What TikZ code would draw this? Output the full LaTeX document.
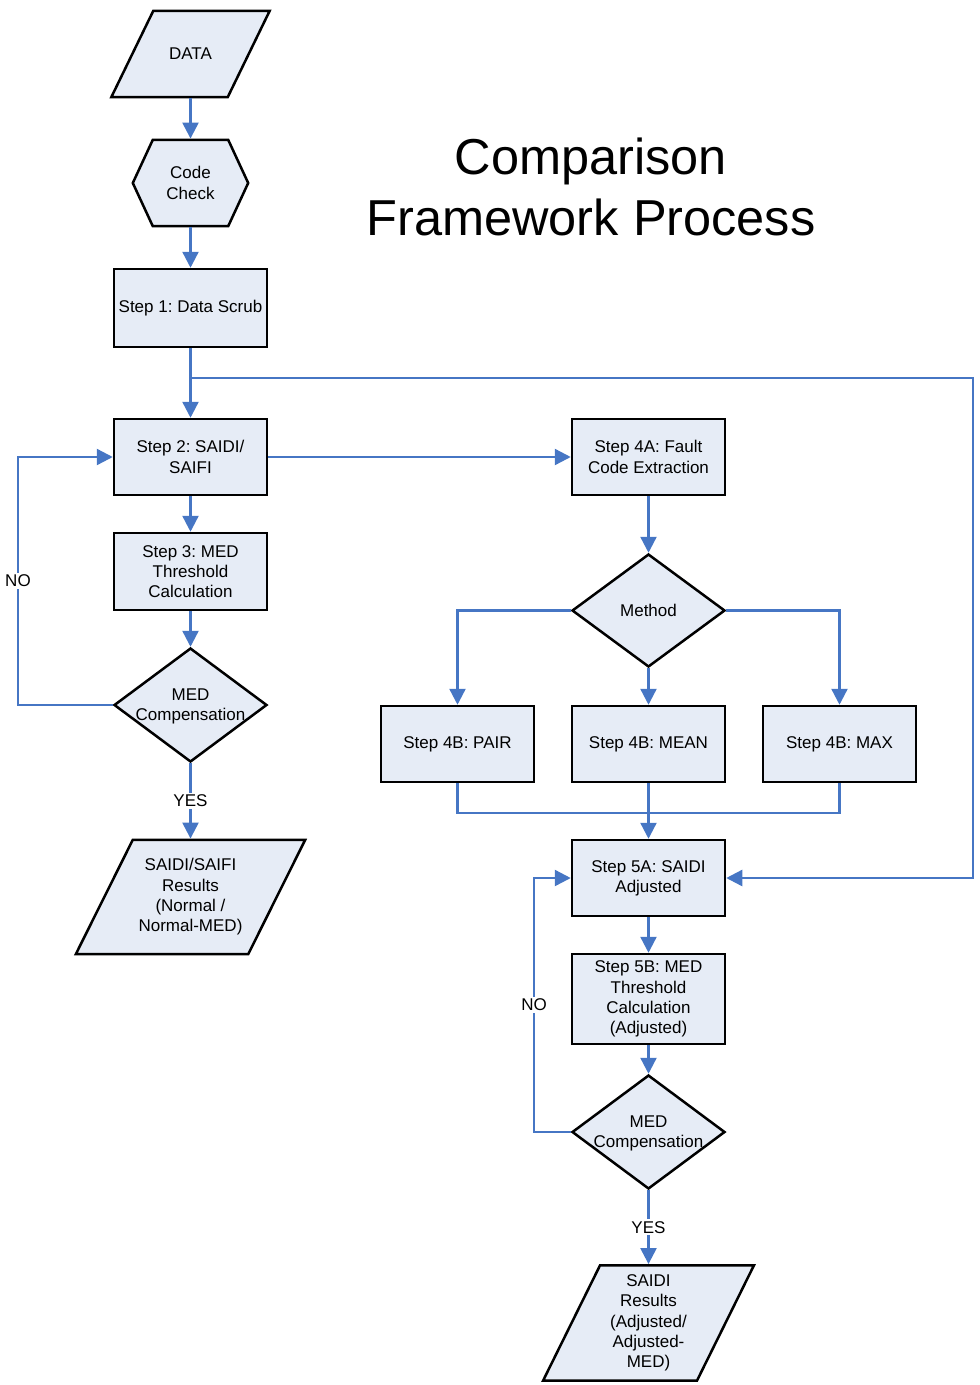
\documentclass[tikz,border=0pt]{standalone}
\usepackage{fontspec}
\setmainfont{Liberation Sans}
\usetikzlibrary{shapes.geometric,arrows.meta}
\pgfdeclarelayer{bg}
\pgfsetlayers{bg,main}
\definecolor{lblue}{RGB}{70,118,196}
\definecolor{boxfill}{RGB}{230,236,246}
\tikzset{
  txt/.style={align=center, inner sep=0pt, font=\fontsize{17}{20.3}\selectfont},
  box/.style={txt, draw=black, line width=2.5pt, fill=boxfill, rectangle, minimum width=153pt, minimum height=77pt},
  holder/.style={txt, rectangle, draw=none},
  outl/.style={draw=black, line width=2.5pt, fill=boxfill, line join=miter},
  dia/.style={shape=diamond, draw=black, line width=2.5pt, fill=boxfill, minimum width=153pt, minimum height=114pt, inner sep=0pt},
  conn/.style={draw=lblue, line width=2.4pt},
  arr/.style={conn, -{Triangle[length=16pt,width=16pt]}},
  lbl/.style={fill=white, inner sep=2pt, font=\fontsize{17}{20.3}\selectfont}
}
\begin{document}
\frenchspacing
\begin{tikzpicture}[x=1pt,y=-1pt]
\useasboundingbox (0,0) rectangle (980,1385);

% title
\node[align=center, font=\fontsize{50.5}{61}\selectfont] (title) at (591,187) {Comparison\\Framework Process};

% left column
\node[holder, minimum width=116pt, minimum height=86pt] (data) at (190.5,54) {DATA};
\node[holder, minimum width=115pt, minimum height=86pt] (code) at (190.5,183) {Code\\Check};
\node[box, minimum height=78pt] (s1) at (190.5,308) {Step 1: Data Scrub};
\node[box, minimum height=76pt] (s2) at (190.5,457) {Step 2: SAIDI/\\SAIFI};
\node[box] (s3) at (190.5,571.5) {Step 3: MED\\Threshold\\Calculation};
\node[dia] (med1) at (190.5,705) {};
\node[txt] (med1t) at ([yshift=-1.5pt]med1.center) {MED\\Compensation};
\node[holder, minimum width=172pt, minimum height=114pt] (res1) at (190.5,897) {SAIDI/SAIFI\\Results\\(Normal /\\Normal-MED)};

% right column
\node[box, minimum height=76pt] (s4a) at (648.5,457) {Step 4A: Fault\\Code Extraction};
\node[dia, minimum height=113pt] (meth) at (648.5,610.5) {};
\node[txt] (metht) at (meth) {Method};
\node[box, minimum height=76pt] (pair) at (457.5,744) {Step 4B: PAIR};
\node[box, minimum height=76pt] (mean) at (648.5,744) {Step 4B: MEAN};
\node[box, minimum height=76pt] (max) at (839.5,744) {Step 4B: MAX};
\node[box, minimum height=76pt] (s5a) at (648.5,878) {Step 5A: SAIDI\\Adjusted};
\node[box, minimum height=90pt] (s5b) at (648.5,999) {Step 5B: MED\\Threshold\\Calculation\\(Adjusted)};
\node[dia] (med2) at (648.5,1132) {};
\node[txt] (med2t) at ([yshift=-1.5pt]med2.center) {MED\\Compensation};
\node[holder, minimum width=153.5pt, minimum height=115pt] (res2) at (648.5,1323) {SAIDI\\Results\\(Adjusted/\\Adjusted-\\MED)};

% drawn outlines behind text
\begin{pgfonlayer}{bg}
\draw[outl] ([xshift=-21pt]data.south west) -- ([xshift=-21pt]data.south east) -- ([xshift=21pt]data.north east) -- ([xshift=21pt]data.north west) -- cycle;
\draw[outl] (code.west) -- ([xshift=20pt]code.north west) -- ([xshift=-20pt]code.north east) -- (code.east) -- ([xshift=-20pt]code.south east) -- ([xshift=20pt]code.south west) -- cycle;
\draw[outl] ([xshift=-28.5pt]res1.south west) -- ([xshift=-28.5pt]res1.south east) -- ([xshift=28.5pt]res1.north east) -- ([xshift=28.5pt]res1.north west) -- cycle;
\draw[outl] ([xshift=-28.5pt]res2.south west) -- ([xshift=-28.5pt]res2.south east) -- ([xshift=28.5pt]res2.north east) -- ([xshift=28.5pt]res2.north west) -- cycle;
\end{pgfonlayer}

% helper coordinates
\coordinate (br) at (190.5,378);
\coordinate (rt) at (973,378);
\coordinate (noL) at (18,705);
\coordinate (noR) at (534,1132);
\coordinate (jn) at (648.5,813);

% connectors
\draw[arr] ([yshift=-1.25pt]data.south) -- ([yshift=1.25pt]code.north);
\draw[arr] ([yshift=-1.25pt]code.south) -- (s1.north);
\draw[arr] (s1.south) -- (s2.north);
\draw[arr] (br) -- (rt) |- (s5a.east);
\draw[arr] (s2.east) -- (s4a.west);
\draw[arr] (s2.south) -- (s3.north);
\draw[arr] (s3.south) -- (med1.north);
\draw[arr] (med1.south) -- node[lbl] (yes1) {YES} ([yshift=1.25pt]res1.north);
\draw[arr] (med1.west) -- (noL) |- node[lbl, pos=0.25] (no1) {NO} (s2.west);
\draw[arr] (s4a.south) -- (meth.north);
\draw[arr] (meth.west) -| (pair.north);
\draw[arr] (meth.south) -- (mean.north);
\draw[arr] (meth.east) -| (max.north);
\draw[conn] (pair.south) |- (jn) -| (max.south);
\draw[arr] (mean.south) -- (s5a.north);
\draw[arr] (s5a.south) -- (s5b.north);
\draw[arr] (s5b.south) -- (med2.north);
\draw[arr] (med2.south) -- node[lbl] (yes2) {YES} ([yshift=1.25pt]res2.north);
\draw[arr] (med2.west) -- (noR) |- node[lbl, pos=0.25] (no2) {NO} (s5a.west);
\end{tikzpicture}
\end{document}
